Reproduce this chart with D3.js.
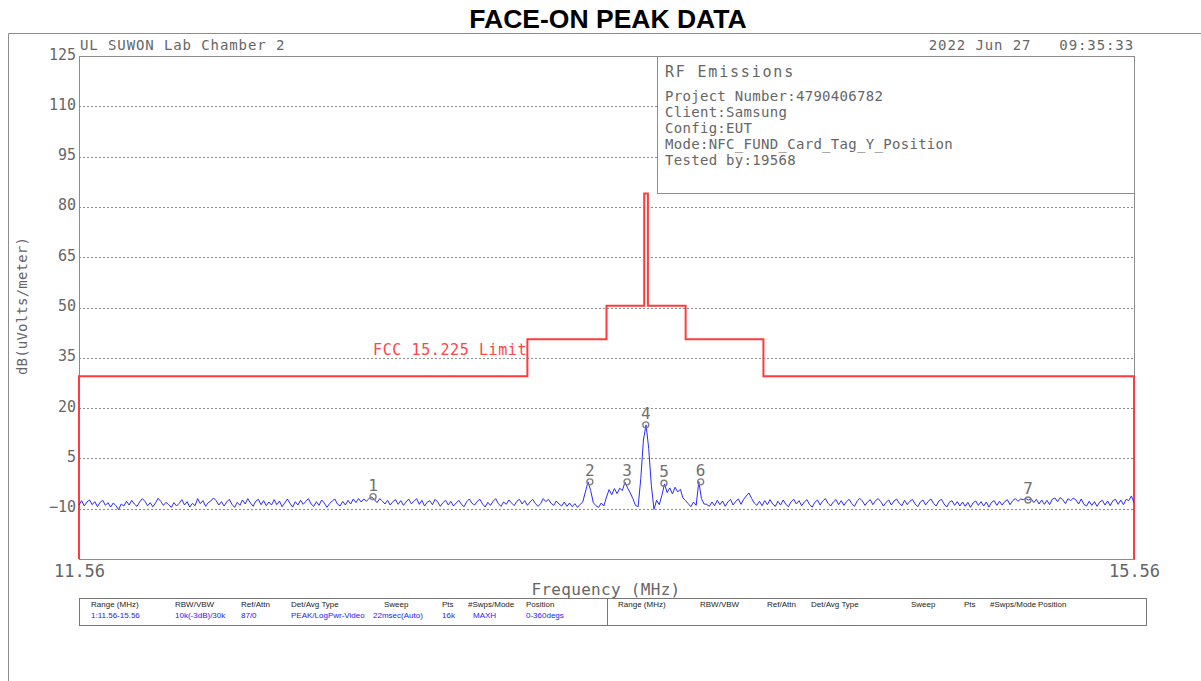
<!DOCTYPE html>
<html>
<head>
<meta charset="utf-8">
<script src="https://cdn.jsdelivr.net/npm/d3@7"></script>
<style>
body { margin: 0; background: #fff; }
.mono { font-family: "DejaVu Sans Mono", monospace; fill: #666; }
.grid { stroke: #8c8c8c; stroke-width: 1; stroke-dasharray: 2,2; }
.frame { stroke: #8c8c8c; stroke-width: 1; fill: none; }
.tbl { font-family: "Liberation Sans", Arial, sans-serif; font-size: 8px; }
</style>
</head>
<body>
<svg id="chart" width="1201" height="681"></svg>
<script>
// sweep: 401 points, 11.56 .. 15.56 MHz
var sweepStart = 11.56;
var sweepStep = 0.01;
var traceValues = [
  -8.9,-7.6,-9.2,-8.0,-7.4,-8.8,-7.9,-9.4,-8.1,-7.5,-9.0,-8.2,-9.5,-8.3,-9.1,-10.3,-8.6,-9.2,-7.8,-8.9,
  -7.5,-8.6,-9.3,-8.0,-7.0,-7.8,-9.1,-8.2,-9.4,-8.3,-6.9,-7.8,-9.0,-8.1,-8.8,-9.6,-8.2,-9.2,-8.4,-7.3,
  -8.9,-7.9,-9.5,-8.4,-9.1,-7.0,-8.5,-7.6,-9.3,-8.2,-7.7,-6.8,-7.6,-8.9,-7.9,-9.2,-8.0,-7.2,-8.7,-9.6,
  -8.1,-9.0,-7.4,-8.6,-7.0,-8.3,-9.3,-7.8,-7.2,-8.8,-7.6,-9.1,-8.0,-8.9,-7.3,-8.8,-7.7,-9.4,-8.3,-7.1,
  -8.4,-9.5,-7.9,-8.9,-7.5,-8.7,-7.8,-7.0,-8.6,-9.3,-7.9,-9.0,-7.4,-8.3,-9.6,-8.5,-7.7,-7.1,-8.6,-9.2,
  -7.8,-8.9,-7.5,-8.6,-7.1,-8.2,-7.0,-8.0,-7.1,-7.8,-6.9,-6.5,-7.3,-8.2,-7.0,-7.7,-8.6,-7.5,-8.9,-7.9,
  -7.3,-8.7,-7.6,-9.0,-8.0,-7.1,-8.5,-7.8,-7.0,-8.7,-7.5,-9.2,-8.1,-7.6,-8.8,-7.2,-8.0,-9.3,-8.2,-7.5,
  -8.9,-7.8,-9.2,-8.3,-7.5,-8.7,-9.4,-7.9,-7.1,-8.4,-8.9,-7.8,-7.2,-8.6,-9.5,-8.1,-9.0,-7.8,-7.0,-8.5,
  -9.3,-8.0,-8.7,-7.4,-8.3,-9.1,-7.8,-7.2,-8.6,-7.6,-9.0,-8.0,-7.2,-8.4,-9.3,-8.5,-7.0,-7.9,-7.2,-8.4,
  -9.0,-7.7,-8.6,-9.2,-8.0,-9.3,-8.3,-9.4,-8.5,-9.6,-8.7,-8.0,-5.0,-2.0,-4.6,-8.2,-9.1,-9.6,-8.3,-9.2,
  -6.5,-4.3,-5.8,-4.0,-5.5,-3.9,-4.6,-2.1,-3.8,-5.3,-7.0,-9.0,-9.4,-1.0,10.5,15.0,8.0,-3.0,-10.2,-7.5,
  -8.8,-6.0,-2.6,-5.2,-3.8,-5.6,-3.6,-5.0,-4.2,-6.8,-7.6,-8.5,-9.4,-8.0,-9.0,-1.9,-7.0,-8.6,-8.7,-9.3,
  -8.0,-9.1,-7.5,-8.8,-7.7,-9.3,-8.0,-7.2,-8.9,-7.8,-7.1,-8.7,-7.2,-6.2,-5.3,-6.9,-8.3,-9.0,-7.8,-9.1,
  -7.6,-8.8,-7.3,-8.6,-9.3,-7.8,-8.9,-7.4,-8.7,-9.4,-7.9,-7.2,-8.6,-7.6,-9.1,-8.0,-7.3,-8.8,-9.5,-8.1,
  -7.4,-8.9,-7.7,-7.0,-8.4,-9.2,-8.0,-7.3,-8.8,-7.6,-9.0,-7.9,-7.2,-8.5,-9.3,-7.8,-6.9,-7.7,-9.0,-8.0,
  -7.3,-8.8,-7.6,-7.0,-7.9,-9.2,-8.1,-7.4,-8.9,-7.7,-7.1,-8.4,-9.1,-7.5,-8.8,-7.8,-7.2,-8.6,-9.4,-8.0,
  -7.4,-8.9,-7.8,-7.1,-8.4,-9.2,-7.7,-7.2,-8.6,-9.5,-8.1,-7.6,-9.0,-7.9,-9.2,-8.0,-9.3,-8.1,-9.6,-8.3,
  -7.7,-9.0,-7.9,-9.2,-8.0,-9.5,-8.1,-7.6,-9.0,-7.8,-8.9,-7.9,-7.3,-8.8,-7.6,-7.0,-7.8,-7.1,-7.3,-7.0,
  -7.4,-7.0,-8.2,-7.2,-8.6,-7.4,-8.7,-7.5,-8.8,-7.2,-6.8,-7.9,-6.7,-7.3,-8.5,-7.0,-7.6,-6.8,-7.4,-8.6,
  -7.1,-8.7,-9.2,-7.8,-9.0,-7.9,-9.3,-8.0,-7.5,-8.9,-7.7,-9.1,-7.6,-7.2,-8.7,-7.4,-8.8,-7.2,-7.6,-6.2,
  -8.2
];

// FCC 15.225 limit (step edges in MHz, level in dBuV/m)
var limitFreqs = [11.56, 13.26, 13.56, 13.703, 13.717, 13.86, 14.155, 15.56];
var limitLevels = [29.5, 40.5, 50.5, 84, 50.5, 40.5, 29.5, 29.5];

var markerIds = ["1", "2", "3", "4", "5", "6", "7"];
var markerFreqs = [12.675, 13.497, 13.638, 13.709, 13.778, 13.917, 15.158];
var markerLevels = [-6.4, -2.0, -2.0, 15.0, -2.4, -2.0, -7.4];

var yTicks = [125, 110, 95, 80, 65, 50, 35, 20, 5, -10];
var xTicks = [11.56, 15.56];

var infoTitle = "RF Emissions";
var infoLines = ["Project Number:4790406782", "Client:Samsung", "Config:EUT",
  "Mode:NFC_FUND_Card_Tag_Y_Position", "Tested by:19568"];

var tableHeaders = ["Range (MHz)", "RBW/VBW", "Ref/Attn", "Det/Avg Type", "Sweep", "Pts", "#Swps/Mode", "Position"];
var tableValues = ["1:11.56-15.56", "10k(-3dB)/30k", "87/0", "PEAK/LogPwr-Video", "22msec(Auto)", "16k", "MAXH", "0-360degs"];

var width = 1201, height = 681;
var plot = { left: 79, right: 1134, top: 56, bottom: 559 };

var svg = d3.select("#chart");

var x = d3.scaleLinear().domain([11.56, 15.56]).range([plot.left, plot.right]);
var y = d3.scaleLinear().domain([-25, 125]).range([plot.bottom, plot.top]);

// title
svg.append("text")
    .attr("x", 608)
    .attr("y", 28)
    .attr("text-anchor", "middle")
    .style("font-family", "Liberation Sans, Arial, sans-serif")
    .style("font-weight", "bold")
    .style("font-size", "26.5px")
    .style("fill", "#000")
    .text("FACE-ON PEAK DATA");

// outer frame (top + left only)
svg.append("path")
    .attr("class", "frame")
    .attr("d", "M8.5," + height + "V33.5H" + width);

// header texts
svg.append("text")
    .attr("class", "mono")
    .attr("x", 80)
    .attr("y", 50)
    .style("font-size", "14px")
    .style("letter-spacing", "0.9px")
    .text("UL SUWON Lab Chamber 2");

svg.append("text")
    .attr("class", "mono")
    .attr("x", 1134)
    .attr("y", 50)
    .attr("text-anchor", "end")
    .style("font-size", "14px")
    .style("letter-spacing", "0.9px")
    .style("white-space", "pre")
    .attr("xml:space", "preserve")
    .text("2022 Jun 27   09:35:33");

// grid
svg.append("g")
    .selectAll("line")
    .data(yTicks.slice(1))
    .enter()
    .append("line")
    .attr("class", "grid")
    .attr("x1", plot.left)
    .attr("x2", plot.right)
    .attr("y1", function (d) { return Math.round(y(d)) + 0.5; })
    .attr("y2", function (d) { return Math.round(y(d)) + 0.5; });

// plot border
svg.append("rect")
    .attr("class", "frame")
    .attr("x", plot.left + 0.5)
    .attr("y", plot.top + 0.5)
    .attr("width", plot.right - plot.left)
    .attr("height", plot.bottom - plot.top);

// y axis labels
var yAxis = d3.axisLeft(y).tickValues(yTicks).tickSize(0).tickPadding(3);
var yAxisG = svg.append("g")
    .attr("transform", "translate(" + plot.left + ",0)")
    .call(yAxis);
yAxisG.select(".domain").remove();
yAxisG.selectAll("text")
    .attr("dy", "0.2em")
    .style("font-size", "15px")
    .style("font-family", "DejaVu Sans Mono, monospace")
    .style("fill", "#666")
    .text(function (d) { return d < 0 ? "\u2212" + Math.abs(d) : d; });

// x axis end labels
var xAxis = d3.axisBottom(x).tickValues(xTicks).tickSize(0).tickPadding(4).tickFormat(d3.format(".2f"));
var xAxisG = svg.append("g")
    .attr("transform", "translate(0," + plot.bottom + ")")
    .call(xAxis);
xAxisG.select(".domain").remove();
xAxisG.selectAll("text")
    .attr("dy", "0.85em")
    .style("font-size", "17px")
    .style("font-family", "DejaVu Sans Mono, monospace")
    .style("fill", "#666");

svg.append("text")
    .attr("class", "mono")
    .attr("x", 606)
    .attr("y", 595)
    .attr("text-anchor", "middle")
    .style("font-size", "16px")
    .style("letter-spacing", "0.3px")
    .text("Frequency (MHz)");

svg.append("text")
    .attr("class", "mono")
    .attr("transform", "translate(27,306) rotate(-90)")
    .attr("text-anchor", "middle")
    .style("font-size", "14px")
    .style("letter-spacing", "0.2px")
    .text("dB(uVolts/meter)");

// info box
svg.append("rect")
    .attr("x", 657.5)
    .attr("y", plot.top + 0.5)
    .attr("width", plot.right - 657)
    .attr("height", 137)
    .style("fill", "#fff")
    .style("stroke", "#8c8c8c");

svg.append("text")
    .attr("class", "mono")
    .attr("x", 665)
    .attr("y", 77)
    .style("font-size", "15px")
    .style("letter-spacing", "1.8px")
    .text(infoTitle);

svg.append("g")
    .selectAll("text")
    .data(infoLines)
    .enter()
    .append("text")
    .attr("class", "mono")
    .attr("x", 665)
    .attr("y", function (d, i) { return 101 + i * 16; })
    .style("font-size", "14px")
    .style("letter-spacing", "0.3px")
    .text(function (d) { return d; });

// limit line
var limitPts = [[11.56, -25]];
limitFreqs.forEach(function (f, i) { limitPts.push([f, limitLevels[i]]); });
limitPts.push([15.56, -25]);

var limitLine = d3.line()
    .x(function (d) { return x(d[0]); })
    .y(function (d) { return y(d[1]); })
    .curve(d3.curveStepAfter);

svg.append("path")
    .datum(limitPts)
    .attr("d", limitLine)
    .style("fill", "none")
    .style("stroke", "#ff3b3b")
    .style("stroke-width", 2);

svg.append("text")
    .attr("x", 373)
    .attr("y", 355)
    .style("font-family", "DejaVu Sans Mono, monospace")
    .style("font-size", "15px")
    .style("letter-spacing", "0.6px")
    .style("fill", "#ff4545")
    .text("FCC 15.225 Limit");

// trace
var traceLine = d3.line()
    .x(function (d, i) { return x(sweepStart + i * sweepStep); })
    .y(function (d) { return y(d); });

svg.append("path")
    .datum(traceValues)
    .attr("d", traceLine)
    .style("fill", "none")
    .style("stroke", "#2a2aff")
    .style("stroke-width", 1);

// markers
var markers = svg.append("g")
    .selectAll("g")
    .data(markerIds)
    .enter()
    .append("g")
    .attr("transform", function (d, i) {
        return "translate(" + x(markerFreqs[i]) + "," + y(markerLevels[i]) + ")";
    });

markers.append("circle")
    .attr("r", 3)
    .style("fill", "none")
    .style("stroke", "#808080")
    .style("stroke-width", 1.4);

markers.append("text")
    .attr("y", -6)
    .attr("text-anchor", "middle")
    .style("font-family", "DejaVu Sans Mono, monospace")
    .style("font-size", "16px")
    .style("fill", "#707070")
    .text(function (d) { return d; });

// settings table
var table = svg.append("g").attr("class", "tbl");
table.append("rect")
    .attr("x", 79.5)
    .attr("y", 598.5)
    .attr("width", 1067)
    .attr("height", 27)
    .style("fill", "none")
    .style("stroke", "#777");
table.append("line")
    .attr("x1", 607.5).attr("x2", 607.5)
    .attr("y1", 598).attr("y2", 625)
    .style("stroke", "#777");

var leftHeadX = [91, 175, 241, 291, 384, 442, 468, 526];
var leftValX = [91, 175, 241, 291, 373, 442, 473, 526];
var rightHeadX = [618, 700, 767, 811, 911, 964, 990, 1038];

table.selectAll("text.lh")
    .data(tableHeaders)
    .enter()
    .append("text")
    .attr("class", "lh")
    .attr("x", function (d, i) { return leftHeadX[i]; })
    .attr("y", 607)
    .style("fill", "#222")
    .text(function (d) { return d; });

table.selectAll("text.lv")
    .data(tableValues)
    .enter()
    .append("text")
    .attr("class", "lv")
    .attr("x", function (d, i) { return leftValX[i]; })
    .attr("y", 618)
    .style("fill", "#1a1aff")
    .text(function (d) { return d; });

table.selectAll("text.rh")
    .data(tableHeaders)
    .enter()
    .append("text")
    .attr("class", "rh")
    .attr("x", function (d, i) { return rightHeadX[i]; })
    .attr("y", 607)
    .style("fill", "#222")
    .text(function (d) { return d; });
</script>
</body>
</html>
